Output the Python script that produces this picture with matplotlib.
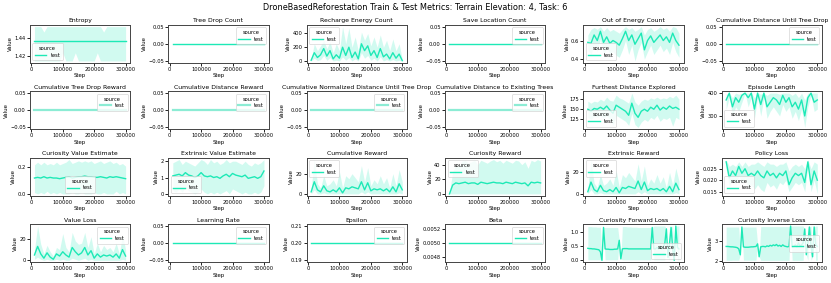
import matplotlib
matplotlib.use("Agg")
import matplotlib.pyplot as plt

# x positions (training steps)
steps = [10000 * (i + 1) for i in range(30)]
steps_fine = [10000 + 5000 * i for i in range(59)]

entropy_mean = [1.437] * 30
entropy_high = [1.453, 1.453, 1.453, 1.447, 1.453, 1.453, 1.453, 1.453, 1.453, 1.453,
                1.453, 1.453, 1.453, 1.453, 1.453, 1.453, 1.453, 1.453, 1.453, 1.453,
                1.453, 1.453, 1.447, 1.453, 1.453, 1.453, 1.453, 1.453, 1.453, 1.453]
entropy_low = [1.415, 1.415, 1.415, 1.415, 1.415, 1.415, 1.415, 1.415, 1.415, 1.424,
               1.415, 1.415, 1.415, 1.424, 1.415, 1.415, 1.415, 1.415, 1.415, 1.415,
               1.424, 1.415, 1.415, 1.415, 1.415, 1.415, 1.415, 1.415, 1.415, 1.415]

recharge_mean = [10, 120, 50, 90, 180, 70, 150, 30, 90, 40, 200, 80, 200, 50, 130,
                 30, 250, 150, 220, 80, 150, 50, 180, 60, 100, 30, 120, 40, 100, 5]
recharge_high = [30, 250, 150, 220, 300, 180, 280, 120, 250, 150, 500, 250, 480, 200, 350,
                 150, 420, 300, 400, 220, 350, 200, 380, 200, 300, 150, 320, 150, 250, 20]
recharge_low = [0, 40, 5, 20, 80, 10, 50, 0, 10, 0, 60, 10, 50, 0, 30,
                0, 120, 40, 80, 10, 40, 0, 60, 0, 20, 0, 20, 0, 10, 0]

energy_mean = [0.58, 0.57, 0.66, 0.6, 0.7, 0.58, 0.64, 0.57, 0.6, 0.58, 0.55, 0.62, 0.7, 0.6, 0.66,
               0.56, 0.62, 0.68, 0.5, 0.6, 0.65, 0.58, 0.62, 0.66, 0.6, 0.64, 0.58, 0.68, 0.6, 0.55]
energy_high = [0.66, 0.72, 0.74, 0.72, 0.75, 0.7, 0.74, 0.7, 0.72, 0.7, 0.68, 0.72, 0.75, 0.72, 0.74,
               0.7, 0.72, 0.75, 0.66, 0.72, 0.74, 0.7, 0.72, 0.75, 0.72, 0.74, 0.7, 0.75, 0.74, 0.68]
energy_low = [0.5, 0.45, 0.55, 0.48, 0.62, 0.45, 0.52, 0.46, 0.48, 0.44, 0.42, 0.5, 0.6, 0.45, 0.55,
              0.38, 0.5, 0.58, 0.4, 0.48, 0.55, 0.45, 0.5, 0.55, 0.48, 0.52, 0.45, 0.58, 0.48, 0.42]

furthest_mean = [150, 145, 152, 150, 155, 150, 158, 148, 140, 160, 155, 150, 145, 135, 165,
                 140, 130, 145, 150, 145, 155, 150, 160, 148, 155, 150, 158, 152, 155, 150]
furthest_high = [170, 165, 170, 168, 175, 170, 180, 172, 170, 185, 178, 175, 170, 165, 190,
                 168, 160, 170, 175, 172, 178, 175, 180, 175, 178, 176, 182, 178, 185, 175]
furthest_low = [130, 125, 132, 130, 135, 128, 135, 125, 110, 135, 130, 125, 120, 110, 140,
                112, 105, 118, 125, 120, 130, 125, 135, 120, 128, 125, 130, 108, 130, 125]

episode_mean = [370, 400, 340, 380, 360, 390, 400, 380, 400, 330, 400, 350, 400, 340, 360,
                380, 370, 350, 390, 360, 380, 340, 360, 330, 370, 300, 380, 400, 360, 370]
episode_high = [395, 400, 380, 400, 395, 400, 400, 400, 400, 380, 400, 395, 400, 390, 400,
                400, 400, 395, 400, 400, 400, 390, 400, 380, 400, 370, 400, 400, 400, 400]
episode_low = [330, 380, 300, 340, 320, 360, 400, 340, 380, 290, 380, 300, 380, 290, 320,
               340, 320, 300, 350, 320, 340, 290, 320, 280, 330, 250, 340, 390, 320, 330]

cur_value_mean = [0.12, 0.125, 0.12, 0.13, 0.12, 0.125, 0.12, 0.12, 0.115, 0.12, 0.125, 0.13, 0.12, 0.125, 0.13,
                  0.13, 0.135, 0.13, 0.13, 0.125, 0.125, 0.13, 0.125, 0.12, 0.13, 0.125, 0.13, 0.125, 0.12, 0.115]
cur_value_high = [0.22, 0.24, 0.22, 0.24, 0.22, 0.23, 0.22, 0.24, 0.22, 0.23, 0.24, 0.26, 0.23, 0.24, 0.25,
                  0.24, 0.25, 0.24, 0.25, 0.23, 0.24, 0.25, 0.23, 0.24, 0.25, 0.23, 0.24, 0.22, 0.23, 0.21]
cur_value_low = [0.01, 0.0, 0.01, 0.0, 0.02, 0.0, 0.01, 0.0, 0.01, 0.0, 0.0, 0.0, 0.01, 0.0, 0.0,
                 0.01, 0.0, 0.0, 0.0, 0.01, 0.0, 0.0, 0.01, 0.0, 0.0, 0.0, 0.02, 0.0, 0.01, 0.0]

ext_value_mean = [1.1, 1.15, 1.2, 1.1, 1.3, 1.15, 1.1, 1.0, 1.1, 1.3, 1.1, 1.05, 1.1, 1.0, 1.05,
                  0.95, 1.1, 1.2, 1.05, 1.25, 1.15, 1.1, 1.05, 1.15, 0.95, 1.0, 1.05, 0.95, 1.05, 1.4]
ext_value_high = [1.9, 2.0, 2.1, 1.8, 2.0, 1.9, 1.8, 1.7, 1.9, 2.1, 2.0, 1.8, 2.1, 1.9, 2.0,
                  1.8, 1.9, 2.1, 1.9, 2.0, 2.0, 1.9, 1.8, 2.0, 1.8, 1.7, 1.9, 1.8, 1.9, 2.1]
ext_value_low = [0.2, 0.1, 0.3, 0.1, 0.4, 0.2, 0.1, 0.0, 0.1, 0.3, 0.1, 0.0, 0.1, 0.0, 0.1,
                 0.0, 0.1, 0.2, 0.0, 0.3, 0.2, 0.1, 0.0, 0.1, 0.0, 0.0, 0.1, 0.0, 0.1, 0.5]

cum_reward_mean = [2, 12, 4, 2, 8, 3, 2, 4, 2, 6, 1, 6, 5, 7, 6,
                   5, 12, 4, 11, 3, 5, 4, 5, 3, 5, 2, 7, 2, 10, 4]
cum_reward_high = [5, 34, 10, 6, 18, 8, 10, 14, 8, 22, 6, 18, 15, 20, 16,
                   12, 28, 12, 26, 8, 14, 10, 18, 10, 16, 6, 20, 8, 24, 12]
cum_reward_low = [0, 4, 0, 0, 1, 0, 0, 0, 0, 0, 0, 0, 0, 0, 0,
                  0, 2, 0, 2, 0, 0, 0, 0, 0, 0, 0, 0, 0, 1, 0]

ext_reward_mean = [2, 11, 4, 2, 8, 3, 2, 4, 2, 6, 1, 6, 5, 7, 6,
                   5, 12, 4, 11, 3, 5, 4, 5, 3, 5, 2, 7, 2, 10, 4]
ext_reward_high = [5, 32, 10, 6, 18, 8, 10, 14, 8, 22, 6, 18, 15, 20, 16,
                   12, 28, 12, 26, 8, 14, 10, 18, 10, 16, 6, 20, 8, 24, 12]
ext_reward_low = [0, 4, 0, 0, 1, 0, 0, 0, 0, 0, 0, 0, 0, 0, 0,
                  0, 2, 0, 2, 0, 0, 0, 0, 0, 0, 0, 0, 0, 1, 0]

cur_reward_mean = [0, 12, 15, 14, 15, 16, 14, 15, 15, 13, 16, 15, 14, 15, 16,
                   15, 15, 14, 16, 15, 14, 16, 15, 14, 15, 11, 16, 15, 16, 15]
cur_reward_high = [2, 30, 40, 38, 45, 46, 42, 44, 46, 40, 46, 44, 42, 45, 47,
                   44, 46, 42, 46, 44, 42, 46, 45, 40, 44, 35, 46, 44, 47, 45]
cur_reward_low = [0] * 30

policy_mean = [0.028, 0.021, 0.024, 0.022, 0.026, 0.023, 0.025, 0.022, 0.023, 0.022, 0.024, 0.022, 0.021, 0.024, 0.022,
               0.023, 0.021, 0.023, 0.022, 0.024, 0.018, 0.021, 0.023, 0.022, 0.023, 0.019, 0.028, 0.018, 0.024, 0.020]
policy_high = [0.029, 0.026, 0.027, 0.026, 0.028, 0.026, 0.028, 0.026, 0.027, 0.027, 0.028, 0.027, 0.026, 0.028, 0.027,
               0.027, 0.026, 0.027, 0.027, 0.028, 0.024, 0.026, 0.027, 0.026, 0.027, 0.025, 0.029, 0.025, 0.028, 0.027]
policy_low = [0.025, 0.017, 0.020, 0.018, 0.022, 0.019, 0.021, 0.017, 0.018, 0.016, 0.018, 0.016, 0.015, 0.019, 0.017,
              0.018, 0.016, 0.019, 0.018, 0.020, 0.015, 0.017, 0.019, 0.018, 0.019, 0.015, 0.026, 0.015, 0.020, 0.014]

vloss_mean = [5, 13, 6, 2, 7, 3, 1, 6, 4, 8, 5, 3, 12, 8, 5,
              7, 12, 5, 9, 2, 6, 3, 5, 4, 5, 3, 6, 2, 10, 4]
vloss_high = [10, 32, 15, 6, 14, 8, 4, 12, 10, 25, 12, 8, 26, 18, 15,
              16, 26, 12, 22, 6, 16, 8, 14, 10, 12, 8, 16, 6, 24, 10]
vloss_low = [1, 3, 1, 0, 1, 0, 0, 1, 0, 1, 0, 0, 2, 1, 0,
             1, 2, 0, 1, 0, 0, 0, 0, 0, 0, 0, 0, 0, 1, 0]

fwd_mean = [0.42, 0.41, 0.41, 0.40, 0.40, 0.39, 0.38, 0.37, 0.30, 0.00, 1.15, 0.40, 0.39, 0.39, 0.38,
            0.38, 0.38, 0.39, 0.39, 0.40, 0.70, 0.05, 0.40, 0.41, 0.41, 0.41, 0.40, 0.40, 0.40, 0.40,
            0.40, 0.40, 0.40, 0.40, 0.40, 0.40, 0.40, 0.40, 0.40, 0.40, 0.40, 1.15, 0.40, 0.40, 0.45,
            0.40, 0.50, 0.40, 0.45, 0.60, 1.10, 0.10, 0.60, 1.15, 0.40, 0.00, 1.20, 0.45, 0.40]
fwd_high = [1.18, 1.18, 1.18, 1.17, 1.17, 1.17, 1.16, 1.16, 1.16, 0.00, 1.15, 1.15, 1.15, 1.15, 1.15,
            1.15, 1.15, 1.15, 1.15, 1.15, 0.70, 0.05, 1.18, 1.18, 1.18, 1.17, 1.17, 1.17, 1.16, 1.16,
            1.16, 1.16, 1.15, 1.15, 1.15, 1.15, 1.15, 1.15, 1.15, 1.15, 1.15, 1.15, 1.20, 1.20, 1.20,
            1.20, 1.20, 1.20, 1.20, 1.20, 1.10, 0.10, 1.20, 1.15, 1.20, 0.00, 1.20, 1.20, 1.20]
fwd_low = [0.02, 0.02, 0.02, 0.02, 0.02, 0.02, 0.02, 0.02, 0.02, 0.00, 1.15, 0.02, 0.02, 0.02, 0.02,
           0.02, 0.02, 0.02, 0.02, 0.02, 0.70, 0.05, 0.02, 0.02, 0.02, 0.02, 0.02, 0.02, 0.02, 0.02,
           0.02, 0.02, 0.02, 0.02, 0.02, 0.02, 0.02, 0.02, 0.02, 0.02, 0.02, 1.15, 0.02, 0.02, 0.02,
           0.02, 0.02, 0.02, 0.02, 0.02, 1.10, 0.10, 0.02, 1.15, 0.02, 0.00, 1.20, 0.02, 0.02]

inv_mean = [2.72, 2.72, 2.71, 2.70, 2.70, 2.69, 2.68, 2.66, 2.60, 2.30, 3.70, 2.70, 2.68, 2.68, 2.68,
            2.69, 2.70, 2.70, 2.71, 2.72, 2.85, 2.20, 2.70, 2.72, 2.72, 2.70, 2.75, 2.72, 2.78, 2.74,
            2.80, 2.76, 2.82, 2.74, 2.78, 2.72, 2.80, 2.74, 2.72, 2.70, 2.72, 3.75, 2.70, 2.72, 2.80,
            2.70, 2.90, 2.75, 2.80, 2.90, 3.60, 2.30, 2.90, 3.70, 2.75, 2.20, 3.70, 2.80, 2.72]
inv_high = [3.70, 3.70, 3.70, 3.70, 3.70, 3.70, 3.70, 3.70, 3.70, 2.30, 3.70, 3.70, 3.70, 3.70, 3.70,
            3.70, 3.70, 3.70, 3.70, 3.70, 2.85, 2.20, 3.72, 3.72, 3.72, 3.72, 3.72, 3.72, 3.72, 3.72,
            3.72, 3.72, 3.72, 3.72, 3.72, 3.72, 3.72, 3.72, 3.72, 3.72, 3.72, 3.75, 3.75, 3.75, 3.75,
            3.75, 3.75, 3.75, 3.75, 3.75, 3.60, 2.30, 3.75, 3.70, 3.75, 2.20, 3.70, 3.75, 3.75]
inv_low = [2.02, 2.02, 2.02, 2.02, 2.03, 2.03, 2.03, 2.03, 2.03, 2.30, 3.70, 2.03, 2.03, 2.03, 2.03,
           2.03, 2.03, 2.03, 2.03, 2.03, 2.85, 2.20, 2.02, 2.02, 2.02, 2.02, 2.02, 2.02, 2.02, 2.02,
           2.02, 2.02, 2.02, 2.02, 2.02, 2.02, 2.02, 2.02, 2.02, 2.02, 2.02, 3.75, 2.02, 2.02, 2.02,
           2.02, 2.02, 2.02, 2.02, 2.02, 3.60, 2.30, 2.02, 3.70, 2.02, 2.20, 3.70, 2.02, 2.02]

zeros = [0.0] * 30
epsilon = [0.2] * 30
beta = [0.005] * 30

COLOR = "#1de9b6"

# (title, x, mean, low, high, legend loc, pale line, y ticks)
panels = [
    ("Entropy", steps, entropy_mean, entropy_low, entropy_high, "lower left", False, [1.42, 1.44]),
    ("Tree Drop Count", steps, zeros, None, None, "upper right", False, None),
    ("Recharge Energy Count", steps, recharge_mean, recharge_low, recharge_high, "upper left", False, [0, 200, 400]),
    ("Save Location Count", steps, zeros, None, None, "upper right", False, None),
    ("Out of Energy Count", steps, energy_mean, energy_low, energy_high, "lower left", False, [0.4, 0.6]),
    ("Cumulative Distance Until Tree Drop", steps, zeros, None, None, "upper right", False, None),
    ("Cumulative Tree Drop Reward", steps, zeros, None, None, "upper right", True, None),
    ("Cumulative Distance Reward", steps, zeros, None, None, "upper right", True, None),
    ("Cumulative Normalized Distance Until Tree Drop", steps, zeros, None, None, "upper right", True, None),
    ("Cumulative Distance to Existing Trees", steps, zeros, None, None, "upper right", True, None),
    ("Furthest Distance Explored", steps, furthest_mean, furthest_low, furthest_high, "lower left", False, [125, 150, 175]),
    ("Episode Length", steps, episode_mean, episode_low, episode_high, "lower left", False, [300, 400]),
    ("Curiosity Value Estimate", steps, cur_value_mean, cur_value_low, cur_value_high, "lower center", False, [0.0, 0.2]),
    ("Extrinsic Value Estimate", steps, ext_value_mean, ext_value_low, ext_value_high, "lower left", False, [0, 1, 2]),
    ("Cumulative Reward", steps, cum_reward_mean, cum_reward_low, cum_reward_high, "upper left", False, [0, 20]),
    ("Curiosity Reward", steps, cur_reward_mean, cur_reward_low, cur_reward_high, "upper left", False, [0, 20, 40]),
    ("Extrinsic Reward", steps, ext_reward_mean, ext_reward_low, ext_reward_high, "upper left", False, [0, 20]),
    ("Policy Loss", steps, policy_mean, policy_low, policy_high, "lower left", False, [0.015, 0.020, 0.025]),
    ("Value Loss", steps, vloss_mean, vloss_low, vloss_high, "upper right", False, [0, 20]),
    ("Learning Rate", steps, zeros, None, None, "upper right", False, None),
    ("Epsilon", steps, epsilon, None, None, "upper right", False, [0.19, 0.20, 0.21]),
    ("Beta", steps, beta, None, None, "upper right", False, [0.0048, 0.0050, 0.0052]),
    ("Curiosity Forward Loss", steps_fine, fwd_mean, fwd_low, fwd_high, "lower right", False, [0.0, 0.5, 1.0]),
    ("Curiosity Inverse Loss", steps_fine, inv_mean, inv_low, inv_high, "center right", False, [2, 3]),
]

fig, axes = plt.subplots(4, 6, figsize=(8.31, 2.83), dpi=100)
fig.subplots_adjust(left=0.036, right=0.989, top=0.912, bottom=0.074, wspace=0.38, hspace=0.76)

for ax, (title, x, mean, low, high, loc, pale, yt) in zip(axes.flat, panels):
    if low is not None:
        ax.fill_between(x, low, high, color=COLOR, alpha=0.2, linewidth=0)
    if pale:
        ax.plot(x, mean, color="#8cecd4", linewidth=1.6, label="test")
    else:
        ax.plot(x, mean, color=COLOR, linewidth=1.0, label="test")
    ax.set_title(title, fontsize=4.4, pad=2)
    ax.set_xlabel("Step", fontsize=3.9, labelpad=1)
    ax.set_ylabel("Value", fontsize=3.9, labelpad=1)
    ax.set_xticks([0, 100000, 200000, 300000])
    if yt is not None:
        ax.set_yticks(yt)
    ax.tick_params(labelsize=3.7, length=2, width=0.6, pad=1)
    for s in ax.spines.values():
        s.set_linewidth(0.7)
        s.set_color("#444444")
    leg = ax.legend(title="source", loc=loc, fontsize=3.7, title_fontsize=3.7,
                    handlelength=2.2, borderpad=0.5, labelspacing=0.3, framealpha=0.8)
    leg.get_frame().set_linewidth(0.5)

fig.suptitle("DroneBasedReforestation Train & Test Metrics: Terrain Elevation: 4, Task: 6",
             fontsize=5.9, y=0.99)

fig.savefig("out.png", dpi=100)
